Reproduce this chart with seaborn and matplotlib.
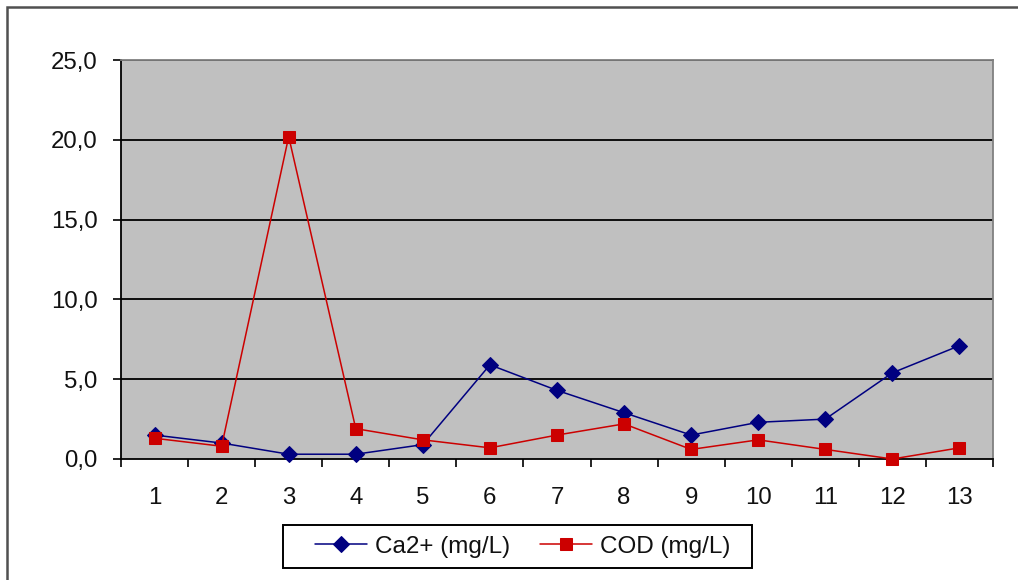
import matplotlib
matplotlib.use("Agg")
import matplotlib.pyplot as plt
from matplotlib.patches import Rectangle
from matplotlib.ticker import FixedLocator, FuncFormatter
import seaborn as sns
import pandas as pd

# Sampling points and measured concentrations
samples = [1, 2, 3, 4, 5, 6, 7, 8, 9, 10, 11, 12, 13]
ca_values = [1.5, 1.0, 0.3, 0.3, 0.9, 5.9, 4.3, 2.9, 1.5, 2.3, 2.5, 5.4, 7.1]
cod_values = [1.3, 0.8, 20.2, 1.9, 1.2, 0.7, 1.5, 2.2, 0.6, 1.2, 0.6, 0.0, 0.7]
series_names = ["Ca2+ (mg/L)", "COD (mg/L)"]
y_ticks = [0, 5, 10, 15, 20, 25]

sns.set_theme(style="white")
plt.rcParams["font.family"] = ["Liberation Sans", "DejaVu Sans"]

W, H = 1018, 580
fig = plt.figure(figsize=(W / 100, H / 100), dpi=100)
fig.patch.set_facecolor("white")
ax = fig.add_axes([121 / W, 1 - 459 / H, (993 - 121) / W, (459 - 60) / H])
ax.set_facecolor("#C0C0C0")

df = pd.DataFrame({"sample": samples, "ca": ca_values, "cod": cod_values})

ca_color = "#000080"
cod_color = "#CC0000"

sns.lineplot(data=df, x="sample", y="ca", ax=ax, color=ca_color, linewidth=1.1,
             marker="D", markersize=8, markeredgecolor=ca_color,
             markerfacecolor=ca_color, clip_on=False, zorder=4, label=series_names[0],
             legend=False)
sns.lineplot(data=df, x="sample", y="cod", ax=ax, color=cod_color, linewidth=1.1,
             marker="s", markersize=8.5, markeredgecolor=cod_color,
             markerfacecolor=cod_color, clip_on=False, zorder=5, label=series_names[1],
             legend=False)

ax.set_xlim(0.5, 13.5)
ax.set_ylim(0, 25)
ax.set_xlabel("")
ax.set_ylabel("")

# Horizontal gridlines
for yv in y_ticks[1:]:
    ax.axhline(yv, color="black", linewidth=1.3, zorder=1)

# Y axis ticks and comma-decimal labels
ax.yaxis.set_major_locator(FixedLocator(y_ticks))
ax.yaxis.set_major_formatter(FuncFormatter(lambda v, p: f"{v:.1f}".replace(".", ",")))
ax.tick_params(axis="y", which="major", left=True, length=6, width=1.2, color="black",
               direction="out", pad=11, labelsize=17.3, labelcolor="#111111")

# X axis: labels at category centres, ticks at category boundaries
ax.xaxis.set_major_locator(FixedLocator(samples))
ax.xaxis.set_major_formatter(FuncFormatter(lambda v, p: f"{int(v)}"))
ax.xaxis.set_minor_locator(FixedLocator([s - 0.5 for s in samples] + [samples[-1] + 0.5]))
ax.tick_params(axis="x", which="major", bottom=True, length=0, pad=20, labelsize=17.3,
               labelcolor="#111111")
ax.tick_params(axis="x", which="minor", bottom=True, length=6, width=1.2, color="black",
               direction="out")

for side in ["left", "bottom"]:
    ax.spines[side].set_color("black")
    ax.spines[side].set_linewidth(1.3)
for side in ["top", "right"]:
    ax.spines[side].set_color("#808080")
    ax.spines[side].set_linewidth(1.3)

# Legend entries, with a wide box drawn around them
handles, labels = ax.get_legend_handles_labels()
leg = fig.legend(handles, labels, loc="center", bbox_to_anchor=(522.5 / W, 1 - 546.5 / H),
                 ncol=2, fontsize=17.5, frameon=False,
                 handlelength=2.15, handletextpad=0.3, columnspacing=1.25,
                 borderpad=0, borderaxespad=0)
for t in leg.get_texts():
    t.set_color("#111111")
fig.patches.append(Rectangle((283 / W, 1 - 568 / H), (752 - 283) / W, (568 - 525) / H,
                             transform=fig.transFigure, fill=False,
                             edgecolor="black", linewidth=1.4))

# Outer chart frame
fig.patches.append(Rectangle((7 / W, -0.1), 1.5, 1 - 7 / H + 0.1,
                             transform=fig.transFigure, fill=False,
                             edgecolor="#505050", linewidth=1.8))

fig.savefig("out.png", dpi=100)
